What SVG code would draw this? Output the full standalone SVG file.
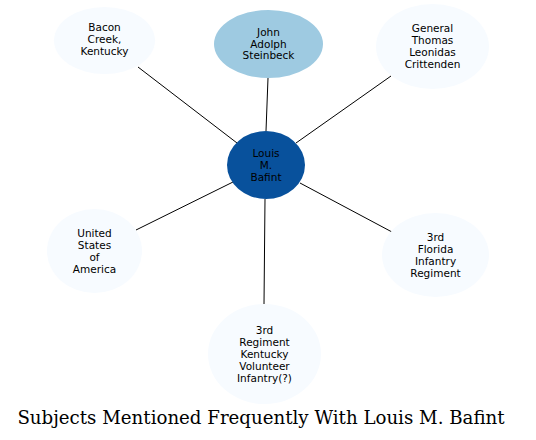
<svg xmlns="http://www.w3.org/2000/svg" width="536" height="440" viewBox="0 0 536 440">
<style>
.n text{font-family:"DejaVu Sans",sans-serif;font-size:10.5px;text-anchor:middle;fill:#000}
.light{fill:#f7fbff;stroke:none}
.e line{stroke:#000;stroke-width:1}
.title{font-family:"DejaVu Serif",serif;font-size:18.2px;text-anchor:middle;fill:#000}
</style>
<rect width="536" height="440" fill="#fff"/>
<g id="edges" class="e">
<line x1="237" y1="143" x2="138" y2="67"/>
<line x1="266" y1="131" x2="268" y2="78"/>
<line x1="296" y1="143" x2="391" y2="76"/>
<line x1="233" y1="182" x2="136" y2="230"/>
<line x1="300" y1="183" x2="392" y2="232"/>
<line x1="265" y1="199" x2="264" y2="304"/>
</g>
<g id="center" class="n">
<ellipse cx="266" cy="165" rx="39" ry="34" fill="#08519c"/>
<text x="266" y="156.5">Louis</text><text x="266" y="168.5">M.</text><text x="266" y="180.5">Bafint</text>
</g>
<g id="steinbeck" class="n">
<ellipse cx="268.5" cy="44" rx="54.5" ry="34" fill="#9ecae1"/>
<text x="268.5" y="35.5">John</text><text x="268.5" y="47.5">Adolph</text><text x="268.5" y="59">Steinbeck</text>
</g>
<g id="crittenden" class="n">
<ellipse class="light" cx="432.5" cy="46.5" rx="56.5" ry="42.5"/>
<text x="432.5" y="32">General</text><text x="432.5" y="44">Thomas</text><text x="432.5" y="56">Leonidas</text><text x="432.5" y="68">Crittenden</text>
</g>
<g id="bacon" class="n">
<ellipse class="light" cx="104.5" cy="40.5" rx="50.5" ry="33.5"/>
<text x="104.5" y="31">Bacon</text><text x="104.5" y="43">Creek,</text><text x="104.5" y="55">Kentucky</text>
</g>
<g id="usa" class="n">
<ellipse class="light" cx="94.5" cy="251" rx="47.5" ry="42"/>
<text x="94.5" y="236.5">United</text><text x="94.5" y="248.5">States</text><text x="94.5" y="260.5">of</text><text x="94.5" y="272.5">America</text>
</g>
<g id="florida" class="n">
<ellipse class="light" cx="435.5" cy="255" rx="53.5" ry="42"/>
<text x="435.5" y="240.5">3rd</text><text x="435.5" y="252.5">Florida</text><text x="435.5" y="264.5">Infantry</text><text x="435.5" y="276.5">Regiment</text>
</g>
<g id="kentucky" class="n">
<ellipse class="light" cx="264.5" cy="354" rx="56.5" ry="50"/>
<text x="264.5" y="333.5">3rd</text><text x="264.5" y="345.5">Regiment</text><text x="264.5" y="357.5">Kentucky</text><text x="264.5" y="369.5">Volunteer</text><text x="264.5" y="381.5">Infantry(?)</text>
</g>
<text class="title" x="261" y="424">Subjects Mentioned Frequently With Louis M. Bafint</text>
</svg>
